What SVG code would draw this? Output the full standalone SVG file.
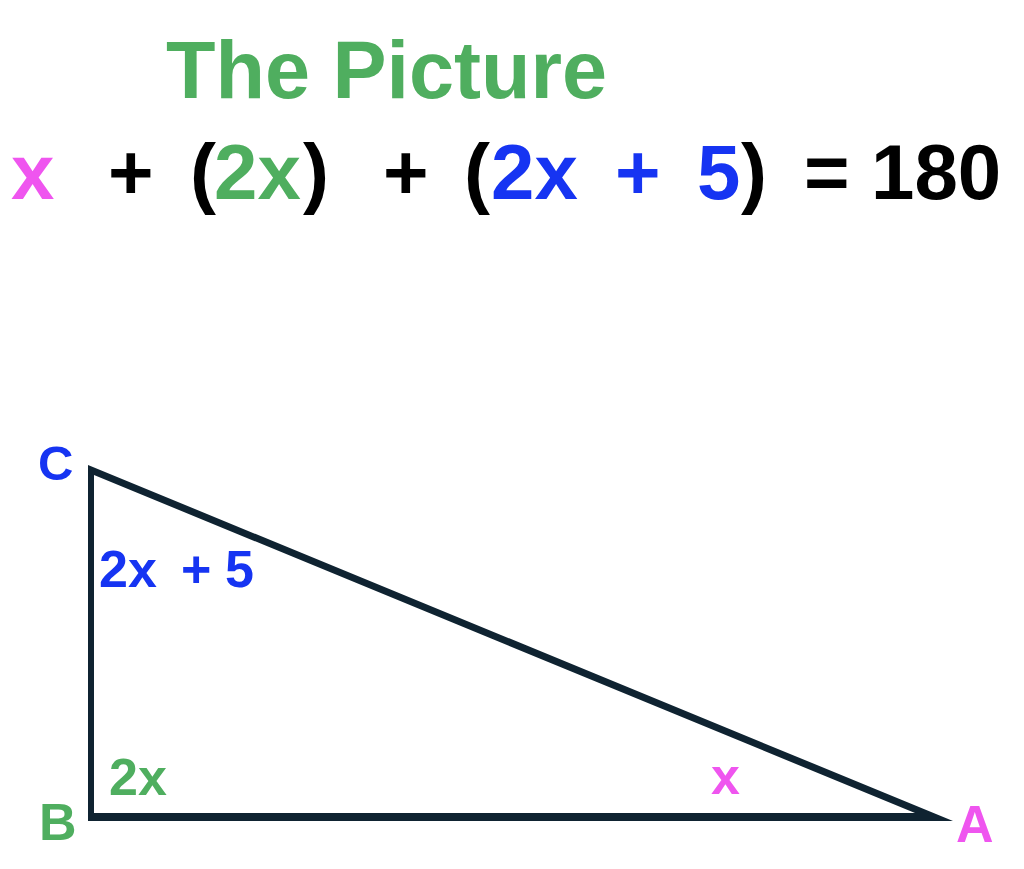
<svg xmlns="http://www.w3.org/2000/svg" width="1024" height="869" viewBox="0 0 1024 869">
<style>
text{font-family:"Liberation Sans",Arial,Helvetica,sans-serif;font-weight:bold}
.g{fill:#4fae5f}.b{fill:#1634f2}.p{fill:#ef55ef}.k{fill:#000}
.eq{font-size:78px}.lb{font-size:52px}
</style>
<rect width="1024" height="869" fill="#fff"/>
<g id="title"><text x="166" y="98" font-size="81" class="g">The Picture</text></g>
<g id="equation" class="eq">
<text x="11" y="199" class="p">x</text>
<text x="108" y="199" class="k">+</text>
<text x="190" y="199" class="k">(</text>
<text x="214" y="199" class="g">2x</text>
<text x="303" y="199" class="k">)</text>
<text x="383" y="199" class="k">+</text>
<text x="464" y="199" class="k">(</text>
<text x="491" y="199" class="b">2x</text>
<text x="615" y="199" class="b">+</text>
<text x="697" y="199" class="b">5</text>
<text x="741" y="199" class="k">)</text>
<text x="804" y="199" class="k">=</text>
<text x="871" y="199" class="k">180</text>
</g>
<g id="triangle">
<path d="M88,465 L953,821 L88,821 Z M94,475 L94,813 L915,813 Z" fill="#0f2331" fill-rule="evenodd"/>
</g>
<g id="vertex-C"><text x="38" y="480" font-size="49" class="b">C</text></g>
<g id="angle-C" class="lb">
<text x="99" y="587" class="b">2x</text>
<text x="181" y="587" class="b">+</text>
<text x="225" y="587" class="b">5</text>
</g>
<g id="vertex-B"><text x="39" y="840" class="lb g">B</text></g>
<g id="angle-B"><text x="109" y="795" class="lb g">2x</text></g>
<g id="angle-A"><text x="711" y="794" class="lb p">x</text></g>
<g id="vertex-A"><text x="956" y="842" class="lb p">A</text></g>
</svg>
